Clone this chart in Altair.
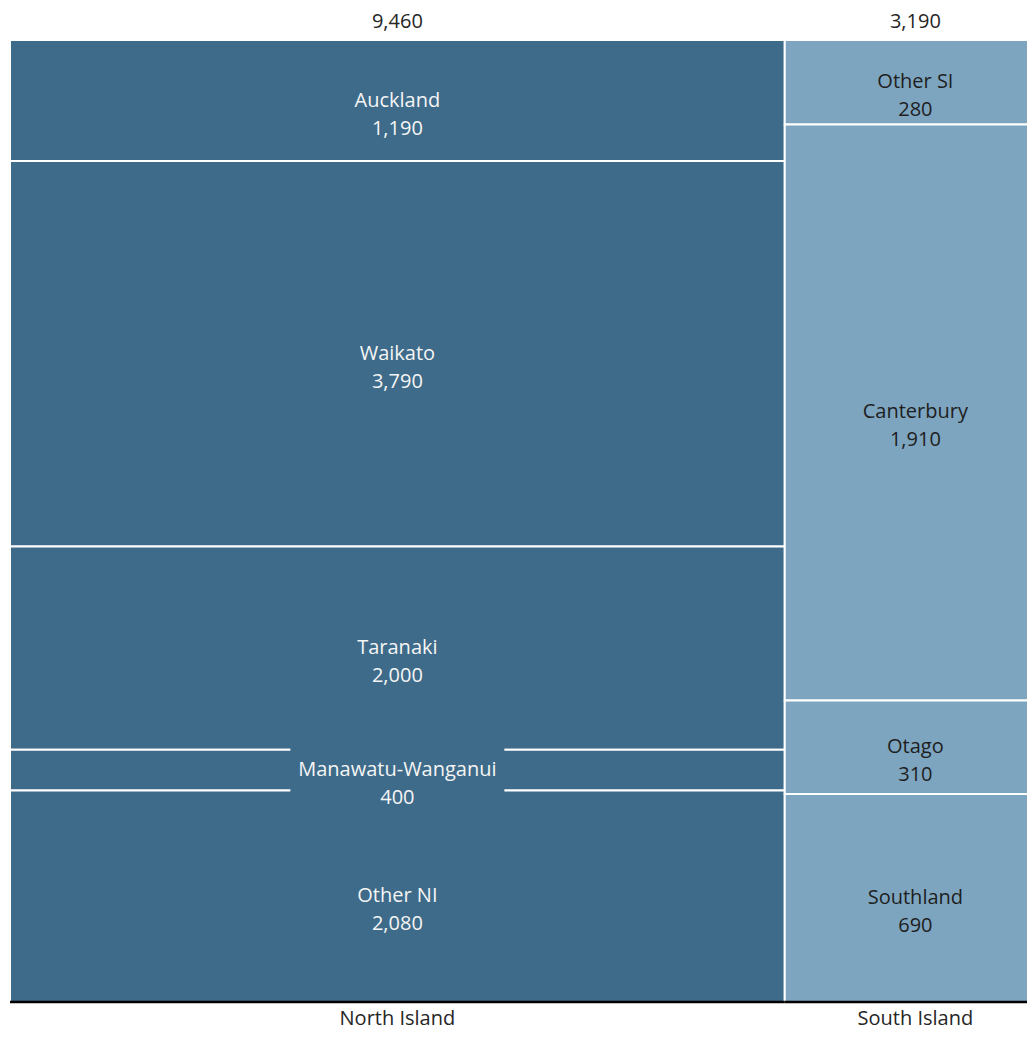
import altair as alt
import pandas as pd

islands = ["North Island", "South Island"]
north_regions = ["Auckland", "Waikato", "Taranaki", "Manawatu-Wanganui", "Other NI"]
north_values = [1190, 3790, 2000, 400, 2080]
south_regions = ["Other SI", "Canterbury", "Otago", "Southland"]
south_values = [280, 1910, 310, 690]

north_color = "#3e6b89"
south_color = "#7da5bf"
FONT = "Open Sans"

groups = [(islands[0], north_regions, north_values), (islands[1], south_regions, south_values)]
grand_total = sum(north_values) + sum(south_values)

seg_rows, isl_rows = [], []
x_cum = 0
for isl, regs, vals in groups:
    tot = sum(vals)
    x0, x1 = x_cum, x_cum + tot
    isl_rows.append(dict(island=isl, total=tot, x0=x0, x1=x1, xm=(x0 + x1) / 2,
                         total_label=f"{tot:,}"))
    y_cum = 0
    for r, v in zip(regs, vals):
        y0, y1 = y_cum / tot, (y_cum + v) / tot
        seg_rows.append(dict(island=isl, region=r, value=v, frac=v / tot,
                             x0=x0, x1=x1, xm=(x0 + x1) / 2,
                             y0=y0, y1=y1, ym=(y0 + y1) / 2,
                             label=f"{r}\n{v:,}"))
        y_cum += v
    x_cum = x1

seg = pd.DataFrame(seg_rows)
isl = pd.DataFrame(isl_rows)

# the reference's mosaic runs slightly past the right edge of the page
xs = alt.Scale(domain=[0, grand_total], range=[0, 1036], nice=False, zero=False)
ys = alt.Scale(domain=[0, 1], reverse=True, nice=False)

is_north = "datum.island == 'North Island'"

rects = alt.Chart(seg).mark_rect(stroke="white", strokeWidth=2).encode(
    x=alt.X("x0:Q", scale=xs, axis=None),
    x2="x1:Q",
    y=alt.Y("y0:Q", scale=ys, axis=None),
    y2="y1:Q",
    fill=alt.condition(is_north, alt.value(north_color), alt.value(south_color)),
)

boxes = alt.Chart(seg).transform_filter("datum.frac < 0.05").mark_point(
    shape="M-1,-0.28H1V0.28H-1Z", filled=True, size=214 ** 2, opacity=1, strokeWidth=0
).encode(
    x="xm:Q", y="ym:Q",
    fill=alt.condition(is_north, alt.value(north_color), alt.value(south_color)),
)

labels = alt.Chart(seg).mark_text(
    font=FONT, fontSize=20, lineBreak="\n", lineHeight=28, baseline="middle", align="center"
).encode(
    x="xm:Q", y="ym:Q", text="label:N",
    color=alt.condition(is_north, alt.value("#f5f5f5"), alt.value("#1e1e1e")),
)

totals = alt.Chart(isl).mark_text(
    font=FONT, fontSize=20, dy=-18.5, baseline="middle", color="#262626"
).encode(x="xm:Q", y=alt.datum(0), text="total_label:N")

names = alt.Chart(isl).mark_text(
    font=FONT, fontSize=20, dy=17, baseline="middle", color="#262626"
).encode(x="xm:Q", y=alt.datum(1), text="island:N")

baseline = alt.Chart(isl).mark_rule(color="black", strokeWidth=2.5).encode(
    x="x0:Q", x2="x1:Q", y=alt.datum(1)
)

chart = alt.layer(rects, boxes, labels, totals, names, baseline).properties(
    width=1017, height=962,
    padding={"left": 2, "top": 32, "right": 0, "bottom": 31},
    autosize=alt.AutoSizeParams(type="none"),
).configure_view(stroke=None)

chart.save("out.html", embed_options={"renderer": "svg", "actions": False})
